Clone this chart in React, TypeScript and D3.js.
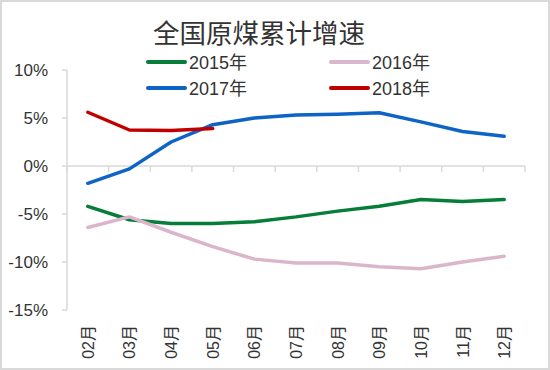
import * as d3 from 'd3';

const months = ['02月', '03月', '04月', '05月', '06月', '07月', '08月', '09月', '10月', '11月', '12月'];
const s2015 = [-4.2, -5.6, -6.0, -6.0, -5.8, -5.3, -4.7, -4.2, -3.5, -3.7, -3.5];
const s2016 = [-6.4, -5.3, -6.9, -8.4, -9.7, -10.1, -10.1, -10.5, -10.7, -10.0, -9.4];
const s2017 = [-1.8, -0.3, 2.5, 4.3, 5.0, 5.3, 5.4, 5.55, 4.6, 3.6, 3.1];
const s2018 = [5.6, 3.75, 3.7, 3.9];
const yTicks = [10, 5, 0, -5, -10, -15];

const series = [
    { name: '2015年', values: s2015, color: '#067d38' },
    { name: '2016年', values: s2016, color: '#dbb5cb' },
    { name: '2017年', values: s2017, color: '#0d63c6' },
    { name: '2018年', values: s2018, color: '#c00000' },
];

const font = '"Liberation Sans", "Noto Sans CJK SC", sans-serif';

export default function App() {
    const width = 550;
    const height = 370;
    const left = 67;
    const right = 525;
    const top = 70;
    const bottom = 310;

    const x = d3.scaleBand<string>().domain(months).range([left, right]);
    const y = d3.scaleLinear().domain([-15, 10]).range([bottom, top]);

    const line = d3
        .line<number>()
        .x((_, i) => (x(months[i]) || 0) + x.bandwidth() / 2)
        .y((d) => y(d));

    const boundaries = d3.range(months.length + 1).map((i) => left + i * x.step());

    const legendPos = [
        { lx: 148, ly: 62 },
        { lx: 331, ly: 62 },
        { lx: 148, ly: 88 },
        { lx: 331, ly: 88 },
    ];

    return (
        <div style={{ position: 'absolute', left: 0, top: 0 }}>
            <svg width={width} height={height} style={{ display: 'block', background: '#fff' }}>
                <rect x={1} y={1} width={width - 2} height={height - 2} fill="#fff" stroke="#d9d9d9" strokeWidth={2} />
                <text x={259} y={43} textAnchor="middle" fontSize={26.5} fill="#333" fontFamily={font}>
                    全国原煤累计增速
                </text>

                {series.map((s, i) => (
                    <g key={s.name}>
                        <line
                            x1={legendPos[i].lx}
                            x2={legendPos[i].lx + 37}
                            y1={legendPos[i].ly}
                            y2={legendPos[i].ly}
                            stroke={s.color}
                            strokeWidth={4}
                            strokeLinecap="round"
                        />
                        <text x={legendPos[i].lx + 41} y={legendPos[i].ly + 7} fontSize={18} fill="#333" fontFamily={font}>
                            {s.name}
                        </text>
                    </g>
                ))}

                {/* y axis */}
                <line x1={left} x2={left} y1={top} y2={bottom} stroke="#d9d9d9" strokeWidth={1.5} />
                {yTicks.map((t) => (
                    <g key={t}>
                        <line x1={left - 5} x2={left} y1={y(t)} y2={y(t)} stroke="#d9d9d9" strokeWidth={1.5} />
                        <text x={48} y={y(t) + 6} textAnchor="end" fontSize={17} fill="#333" fontFamily={font}>
                            {t + '%'}
                        </text>
                    </g>
                ))}

                {/* x axis on 0% */}
                <line x1={left} x2={right} y1={y(0)} y2={y(0)} stroke="#d9d9d9" strokeWidth={1.5} />
                {boundaries.map((bx, i) => (
                    <line key={i} x1={bx} x2={bx} y1={y(0)} y2={y(0) + 6} stroke="#d9d9d9" strokeWidth={1.5} />
                ))}
                {months.map((m) => {
                    const cx = (x(m) || 0) + x.bandwidth() / 2;
                    return (
                        <text
                            key={m}
                            transform={`translate(${cx + 6},325) rotate(-90)`}
                            textAnchor="end"
                            fontSize={16}
                            fill="#333"
                            fontFamily={font}
                        >
                            {m}
                        </text>
                    );
                })}

                {series.map((s) => (
                    <path
                        key={s.name}
                        d={line(s.values) || ''}
                        fill="none"
                        stroke={s.color}
                        strokeWidth={3.5}
                        strokeLinejoin="round"
                        strokeLinecap="round"
                    />
                ))}
            </svg>
        </div>
    );
}
